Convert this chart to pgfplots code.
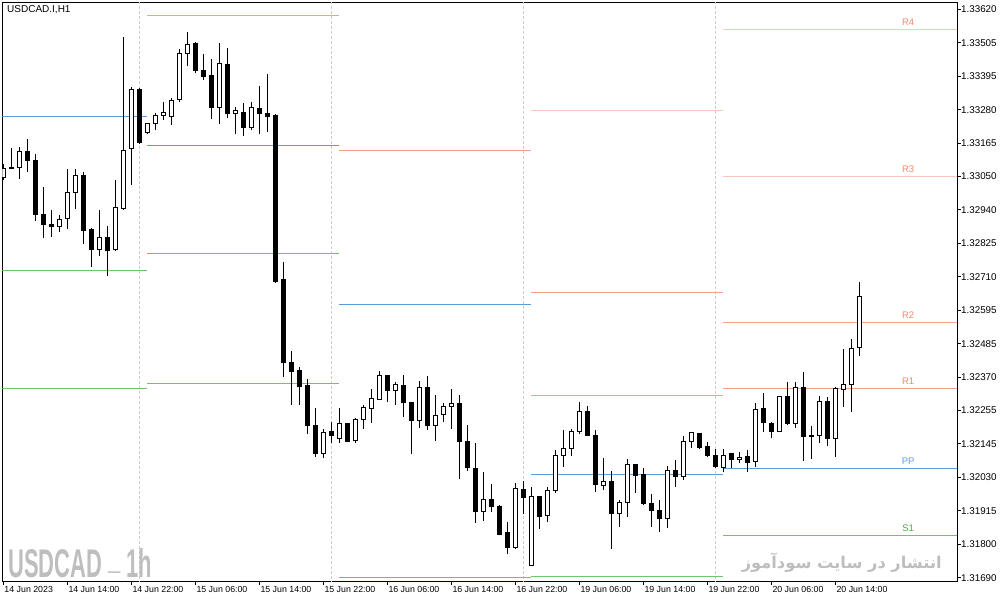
\documentclass[border=0pt]{standalone}
\usepackage{pgfplots}
\pgfplotsset{compat=1.18}
\usepackage{pgfplotstable}
\usepackage{fontspec}
\setmainfont{Liberation Sans}
\newfontfamily\arabicfont[Script=Arabic]{DejaVu Sans}
\TeXXeTstate=1
\definecolor{rlow}{HTML}{F4A08C}
\definecolor{rhigh}{HTML}{F8C6BE}
\definecolor{rlab}{HTML}{EE8A6A}
\definecolor{ppc}{HTML}{5B9BE0}
\definecolor{sc}{HTML}{70C46C}
\definecolor{slab}{HTML}{4FA04F}
\definecolor{sepc}{HTML}{CCCCCC}
\definecolor{wm}{HTML}{BEBEBE}

\pgfplotstableread{
i O H L C
0 1.33050 1.33094 1.33040 1.33080
1 1.33082 1.33149 1.33077 1.33078
2 1.33083 1.33152 1.33044 1.33138
3 1.33138 1.33180 1.33069 1.33107
4 1.33107 1.33128 1.32902 1.32924
5 1.32924 1.33016 1.32844 1.32889
6 1.32890 1.32938 1.32847 1.32882
7 1.32882 1.32920 1.32865 1.32907
8 1.32910 1.33078 1.32874 1.32999
9 1.32998 1.33077 1.32942 1.33057
10 1.33057 1.33068 1.32824 1.32868
11 1.32871 1.32876 1.32746 1.32805
12 1.32805 1.32938 1.32783 1.32846
13 1.32846 1.32884 1.32715 1.32800
14 1.32805 1.33040 1.32801 1.32948
15 1.32944 1.33527 1.32940 1.33141
16 1.33148 1.33355 1.33025 1.33349
17 1.33349 1.33353 1.33164 1.33167
18 1.33202 1.33234 1.33197 1.33233
19 1.33233 1.33268 1.33211 1.33259
20 1.33260 1.33305 1.33244 1.33270
21 1.33255 1.33320 1.33228 1.33312
22 1.33314 1.33484 1.33304 1.33471
23 1.33471 1.33543 1.33429 1.33501
24 1.33505 1.33508 1.33403 1.33412
25 1.33412 1.33468 1.33380 1.33391
26 1.33394 1.33450 1.33247 1.33286
27 1.33287 1.33505 1.33232 1.33437
28 1.33434 1.33488 1.33251 1.33267
29 1.33267 1.33287 1.33196 1.33275
30 1.33270 1.33301 1.33191 1.33219
31 1.33218 1.33305 1.33210 1.33287
32 1.33284 1.33360 1.33196 1.33267
33 1.33267 1.33400 1.33203 1.33255
34 1.33258 1.33263 1.32692 1.32695
35 1.32701 1.32761 1.32372 1.32420
36 1.32421 1.32460 1.32277 1.32389
37 1.32392 1.32405 1.32277 1.32338
38 1.32341 1.32364 1.32179 1.32206
39 1.32208 1.32266 1.32101 1.32111
40 1.32111 1.32195 1.32097 1.32184
41 1.32185 1.32219 1.32148 1.32172
42 1.32163 1.32266 1.32148 1.32214
43 1.32212 1.32214 1.32151 1.32154
44 1.32155 1.32232 1.32148 1.32228
45 1.32228 1.32277 1.32196 1.32269
46 1.32265 1.32331 1.32216 1.32299
47 1.32296 1.32392 1.32295 1.32377
48 1.32377 1.32378 1.32287 1.32325
49 1.32326 1.32353 1.32277 1.32347
50 1.32344 1.32378 1.32237 1.32284
51 1.32286 1.32287 1.32111 1.32223
52 1.32223 1.32358 1.32199 1.32337
53 1.32337 1.32375 1.32191 1.32206
54 1.32206 1.32310 1.32155 1.32241
55 1.32245 1.32282 1.32219 1.32273
56 1.32272 1.32331 1.32196 1.32282
57 1.32282 1.32310 1.32025 1.32152
58 1.32151 1.32208 1.32053 1.32063
59 1.32062 1.32148 1.31877 1.31914
60 1.31914 1.32050 1.31883 1.31956
61 1.31957 1.32008 1.31914 1.31931
62 1.31933 1.31936 1.31834 1.31838
63 1.31842 1.31879 1.31770 1.31792
64 1.31792 1.32012 1.31787 1.31994
65 1.31988 1.32018 1.31906 1.31962
66 1.31731 1.31997 1.31729 1.31966
67 1.31966 1.31967 1.31856 1.31897
68 1.31902 1.31997 1.31880 1.31987
69 1.31985 1.32124 1.31979 1.32106
70 1.32104 1.32191 1.32067 1.32129
71 1.32128 1.32194 1.32104 1.32187
72 1.32186 1.32287 1.32179 1.32255
73 1.32255 1.32273 1.32171 1.32172
74 1.32174 1.32191 1.31982 1.32006
75 1.32004 1.32095 1.31989 1.32017
76 1.32018 1.32052 1.31788 1.31907
77 1.31907 1.31954 1.31863 1.31946
78 1.31946 1.32092 1.31897 1.32075
79 1.32075 1.32076 1.31979 1.32036
80 1.32039 1.32062 1.31938 1.31941
81 1.31943 1.31973 1.31863 1.31917
82 1.31919 1.31954 1.31846 1.31890
83 1.31890 1.32069 1.31860 1.32055
84 1.32055 1.32089 1.31999 1.32033
85 1.32033 1.32170 1.32023 1.32153
86 1.32151 1.32185 1.32129 1.32184
87 1.32180 1.32181 1.32127 1.32132
88 1.32137 1.32150 1.32099 1.32106
89 1.32106 1.32126 1.32063 1.32067
90 1.32065 1.32126 1.32048 1.32106
91 1.32112 1.32113 1.32061 1.32092
92 1.32092 1.32117 1.32078 1.32099
93 1.32103 1.32124 1.32050 1.32080
94 1.32084 1.32282 1.32065 1.32262
95 1.32265 1.32316 1.32186 1.32216
96 1.32214 1.32219 1.32165 1.32186
97 1.32186 1.32307 1.32184 1.32305
98 1.32305 1.32354 1.32210 1.32212
99 1.32214 1.32354 1.32197 1.32336
100 1.32336 1.32388 1.32087 1.32169
101 1.32174 1.32205 1.32094 1.32170
102 1.32174 1.32307 1.32146 1.32288
103 1.32288 1.32304 1.32138 1.32163
104 1.32163 1.32336 1.32101 1.32331
105 1.32330 1.32467 1.32271 1.32347
106 1.32347 1.32500 1.32254 1.32469
107 1.32472 1.32693 1.32444 1.32645
}\candles

\begin{document}
\begin{tikzpicture}[x=1pt,y=1pt]
\useasboundingbox (0,0) rectangle (1003,602);
\begin{axis}[
  at={(2.3pt,20.5pt)}, anchor=south west,
  width=954.7pt, height=579.2pt, scale only axis,
  xmin=-0.125, xmax=119.21,
  ymin=1.31677, ymax=1.33644,
  axis line style={line width=1pt, black},
  tick align=outside, major tick length=3.5pt,
  tick style={black, line width=1pt},
  xtick pos=lower, ytick pos=upper,
  xticklabel pos=lower, yticklabel pos=upper,
  xtick={0,8,16,24,32,40,48,56,64,72,80,88,96,104},
  xticklabels={14 Jun 2023,14 Jun 14:00,14 Jun 22:00,15 Jun 06:00,15 Jun 14:00,15 Jun 22:00,16 Jun 06:00,16 Jun 14:00,16 Jun 22:00,19 Jun 06:00,19 Jun 14:00,19 Jun 22:00,20 Jun 06:00,20 Jun 14:00},
  ytick={1.336200,1.335065,1.333929,1.332794,1.331659,1.330524,1.329388,1.328253,1.327118,1.325982,1.324847,1.323712,1.322576,1.321441,1.320306,1.319171,1.318035,1.316900},
  yticklabels={1.33620,1.33505,1.33395,1.33280,1.33165,1.33050,1.32940,1.32825,1.32710,1.32595,1.32485,1.32370,1.32255,1.32145,1.32030,1.31915,1.31800,1.31690},
  xticklabel style={font=\fontsize{8.8}{10}\selectfont, anchor=north west, inner sep=1pt},
  yticklabel style={font=\fontsize{9.8}{10}\selectfont, anchor=west, inner sep=0.5pt},
  scaled y ticks=false,
]
% day separators
\addplot[sepc, line width=1pt, dash pattern=on 3pt off 2pt] coordinates {(17,1.3160) (17,1.3370)};
\addplot[sepc, line width=1pt, dash pattern=on 3pt off 2pt] coordinates {(41,1.3160) (41,1.3370)};
\addplot[sepc, line width=1pt, dash pattern=on 3pt off 2pt] coordinates {(65,1.3160) (65,1.3370)};
\addplot[sepc, line width=1pt, dash pattern=on 3pt off 2pt] coordinates {(89,1.3160) (89,1.3370)};
% pivot levels, day A
\addplot[ppc, line width=1pt] coordinates {(-1,1.33257) (18,1.33257)};
\addplot[sc, line width=1pt] coordinates {(-1,1.32734) (18,1.32734)};
\addplot[sc, line width=1pt] coordinates {(-1,1.32331) (18,1.32331)};
% day B
\addplot[rlow, line width=1pt] coordinates {(18,1.33600) (42,1.33600)};
\addplot[ppc, line width=1pt] coordinates {(18,1.33158) (42,1.33158)};
\addplot[sc, line width=1pt] coordinates {(18,1.32792) (42,1.32792)};
\addplot[sc, line width=1pt] coordinates {(18,1.32350) (42,1.32350)};
% day C
\addplot[rlow, line width=1pt] coordinates {(42,1.33139) (66,1.33139)};
\addplot[ppc, line width=1pt] coordinates {(42,1.32619) (66,1.32619)};
\addplot[sc, line width=1pt] coordinates {(42,1.31691) (66,1.31691)};
% day D
\addplot[rhigh, line width=1pt] coordinates {(66,1.33278) (90,1.33278)};
\addplot[rlow, line width=1pt] coordinates {(66,1.32659) (90,1.32659)};
\addplot[rlow, line width=1pt] coordinates {(66,1.32309) (90,1.32309)};
\addplot[ppc, line width=1pt] coordinates {(66,1.32041) (90,1.32041)};
\addplot[sc, line width=1pt] coordinates {(66,1.31695) (90,1.31695)};
% day E
\addplot[rhigh, line width=1pt] coordinates {(90,1.33552) (121,1.33552)};
\addplot[rhigh, line width=1pt] coordinates {(90,1.33053) (121,1.33053)};
\addplot[rlow, line width=1pt] coordinates {(90,1.32557) (121,1.32557)};
\addplot[rlow, line width=1pt] coordinates {(90,1.32333) (121,1.32333)};
\addplot[ppc, line width=1pt] coordinates {(90,1.32060) (121,1.32060)};
\addplot[sc, line width=1pt] coordinates {(90,1.31834) (121,1.31834)};
% wicks
\addplot[only marks, mark=none, mark options={draw=none, fill=none}, mark size=0pt,
  error bars/.cd, y dir=plus, y explicit, error mark=none,
  error bar style={black, line width=1pt}]
  table[x=i, y=L, y error expr=\thisrow{H}-\thisrow{L}] {\candles};
% bodies (outline / black fill)
\addplot[only marks, mark=none, mark options={draw=none, fill=none}, mark size=0pt,
  error bars/.cd, y dir=plus, y explicit, error mark=none,
  error bar style={black, line width=5pt}]
  table[x=i, y expr={min(\thisrow{O},\thisrow{C})-0.000017}, y error expr={abs(\thisrow{C}-\thisrow{O})+0.000034}] {\candles};
% white interior of rising candles
\addplot[only marks, mark=none, mark options={draw=none, fill=none}, mark size=0pt,
  error bars/.cd, y dir=plus, y explicit, error mark=none,
  error bar style={white, line width=3pt}]
  table[x=i, y expr={\thisrow{O}+0.000017}, y error expr={max(\thisrow{C}-\thisrow{O}-0.000034,0)}] {\candles};
% level labels
\node[text=rlab, anchor=base, inner sep=0, font=\fontsize{9.5}{10}\selectfont] at ([yshift=3.8pt]axis cs:113.1,1.33552) {R4};
\node[text=rlab, anchor=base, inner sep=0, font=\fontsize{9.5}{10}\selectfont] at ([yshift=3.8pt]axis cs:113.1,1.33053) {R3};
\node[text=rlab, anchor=base, inner sep=0, font=\fontsize{9.5}{10}\selectfont] at ([yshift=3.8pt]axis cs:113.1,1.32557) {R2};
\node[text=rlab, anchor=base, inner sep=0, font=\fontsize{9.5}{10}\selectfont] at ([yshift=3.8pt]axis cs:113.1,1.32333) {R1};
\node[text=ppc, anchor=base, inner sep=0, font=\fontsize{9.5}{10}\selectfont] at ([yshift=3.8pt]axis cs:113.1,1.32060) {PP};
\node[text=slab, anchor=base, inner sep=0, font=\fontsize{9.5}{10}\selectfont] at ([yshift=3.8pt]axis cs:113.1,1.31834) {S1};
\end{axis}
% title and watermarks
\node[anchor=west, inner sep=0, font=\fontsize{10}{12}\selectfont] at (7,592) {USDCAD.I,H1};
\node[anchor=base west, inner sep=0, text=wm] at (8,25) {\resizebox{144pt}{29pt}{\bfseries USDCAD \raisebox{0.2em}{\_} 1h}};
\node[anchor=base east, inner sep=0, text=wm] at (942,34) {\resizebox{200pt}{!}{\arabicfont\bfseries\beginR انتشار در سایت سودآموز\endR}};
\end{tikzpicture}
\end{document}
